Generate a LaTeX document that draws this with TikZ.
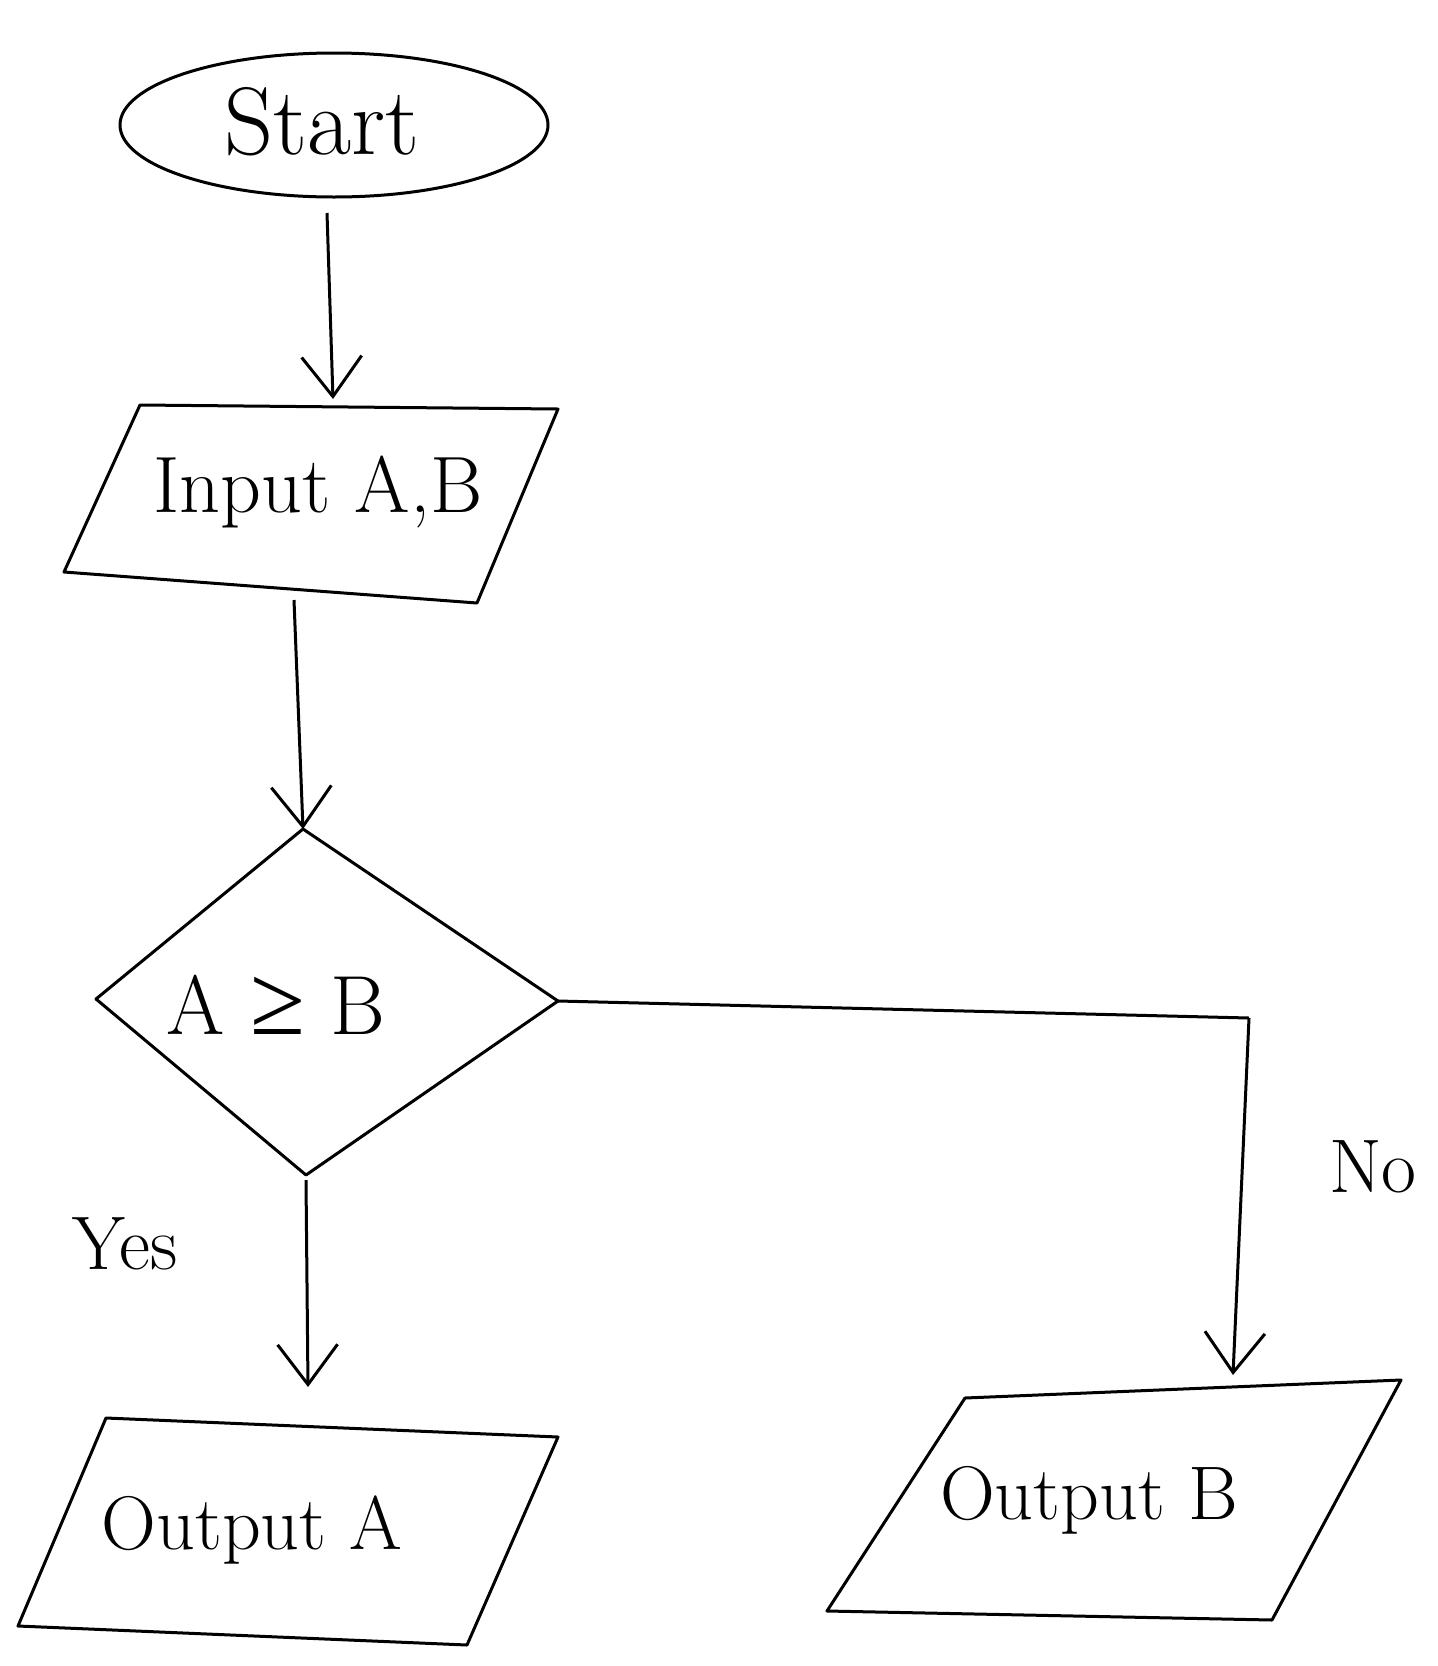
\documentclass[tikz,border=0pt]{standalone}
\usepackage{fontspec}
\newfontfamily\symfont{Liberation Serif}
\usetikzlibrary{arrows.meta,shapes.geometric}
\begin{document}
\begin{tikzpicture}[x=0.5pt,y=-0.5pt,
  shapeline/.style={draw=black,line width=1.5pt,line join=round},
  txt/.style={inner sep=0pt},
  flow/.style={line width=1.5pt,-{Straight Barb[length=20pt,width=30pt,line width=1.5pt]}},
  plainline/.style={line width=1.5pt}
]
\useasboundingbox (0,0) rectangle (1437,1666);
\fill[white] (0,0) rectangle (1437,1666);

% Start
\node[shapeline,ellipse,minimum width=214pt,minimum height=72pt,inner sep=0pt] (start) at (334,125) {};
\node[txt,font=\fontsize{48}{56}\selectfont] (starttxt) at (322,122) {Start};

% Input parallelogram
\coordinate (in1) at (140,405);
\coordinate (in2) at (558,409);
\coordinate (in3) at (477,603);
\coordinate (in4) at (64,572);
\draw[shapeline] (in1) -- (in2) -- (in3) -- (in4) -- cycle;
\node[txt,font=\fontsize{40}{48}\selectfont] (input) at (318,492) {Input A,B};

% Decision diamond
\coordinate (dtop) at (303,829);
\coordinate (dright) at (558,1001);
\coordinate (dbottom) at (306,1175);
\coordinate (dleft) at (96,999);
\draw[shapeline] (dtop) -- (dright) -- (dbottom) -- (dleft) -- cycle;
\node[txt,font=\fontsize{42}{50}\selectfont] (dec) at (276,1005) {A {\symfont\fontsize{50}{56}\selectfont ≥} B};

% Output A
\coordinate (a1) at (106,1418);
\coordinate (a2) at (558,1437);
\coordinate (a3) at (467,1645);
\coordinate (a4) at (18,1626);
\draw[shapeline] (a1) -- (a2) -- (a3) -- (a4) -- cycle;
\node[txt,font=\fontsize{38}{46}\selectfont] (outA) at (252,1530) {Output A};

% Output B
\coordinate (b1) at (965,1398);
\coordinate (b2) at (1401,1380);
\coordinate (b3) at (1272,1620);
\coordinate (b4) at (827,1611);
\draw[shapeline] (b1) -- (b2) -- (b3) -- (b4) -- cycle;
\node[txt,font=\fontsize{38}{46}\selectfont] (outB) at (1089,1500) {Output B};

% connector helper coordinates
\coordinate (s1) at (327,213);
\coordinate (s2) at (333,399);
\coordinate (i1) at (294,600);
\coordinate (y1) at (306,1180);
\coordinate (y2) at (308,1387);
\coordinate (corner) at (1249,1018);
\coordinate (n2) at (1233,1375);

\draw[flow] (s1) -- (s2);
\draw[flow] (i1) -- (dtop);
\draw[flow] (y1) -- (y2);
\draw[plainline] (dright) -- (corner);
\draw[flow] (corner) -- (n2);

\node[txt,font=\fontsize{38}{46}\selectfont] (yes) at (125,1244) {Yes};
\node[txt,font=\fontsize{38}{46}\selectfont] (no) at (1373,1167) {No};
\end{tikzpicture}
\end{document}
